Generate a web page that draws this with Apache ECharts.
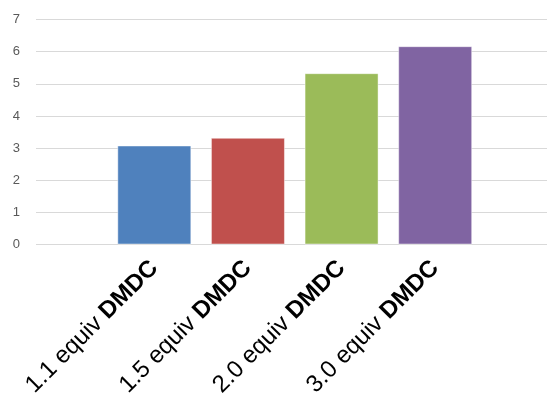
<!DOCTYPE html>
<html>
<head>
<meta charset="utf-8">
<script src="https://cdn.jsdelivr.net/npm/echarts@6/dist/echarts.min.js"></script>
<style>html,body{margin:0;padding:0;background:#fff}#c{width:547px;height:404px}</style>
</head>
<body>
<div id="c"></div>
<script>
var categories = ['1.1 equiv', '1.5 equiv', '2.0 equiv', '3.0 equiv'];
var reagent = 'DMDC';
var values = [3.08, 3.32, 5.33, 6.17];
var yTicks = {min: 0, max: 7, interval: 1};
var barColors = ['#4F81BD', '#C0504D', '#9BBB59', '#8064A2'];

var chart = echarts.init(document.getElementById('c'), null, {renderer: 'canvas'});
chart.setOption({
  animation: false,
  grid: [
    {left: 36, right: 0, top: 19.5, bottom: 159.5},
    {left: 107.5, right: 65, top: 19.5, bottom: 159.5}
  ],
  xAxis: [
    {gridIndex: 0, type: 'category', data: categories, show: false},
    {gridIndex: 1, type: 'category', data: categories,
     axisLine: {show: false}, axisTick: {show: false},
     axisLabel: {
       rotate: 45, margin: 20, interval: 0,
       formatter: function (v) { return '{a|' + v + ' }{b|' + reagent + '}'; },
       rich: {
         a: {fontFamily: 'Liberation Sans, Arial', fontSize: 24, color: '#000'},
         b: {fontFamily: 'Liberation Sans, Arial', fontSize: 24, fontWeight: 'bold', color: '#000'}
       }
     }}
  ],
  yAxis: [
    {gridIndex: 0, type: 'value', min: yTicks.min, max: yTicks.max, interval: yTicks.interval,
     axisLine: {show: false}, axisTick: {show: false},
     axisLabel: {margin: 16, color: '#595959', fontSize: 13, fontFamily: 'Liberation Sans, Arial'},
     splitLine: {lineStyle: {color: '#D9D9D9', width: 1}}},
    {gridIndex: 1, type: 'value', min: yTicks.min, max: yTicks.max, interval: yTicks.interval, show: false,
     splitLine: {show: false}}
  ],
  series: [{
    type: 'bar', xAxisIndex: 1, yAxisIndex: 1,
    barWidth: 74,
    data: values.map(function (v, i) {
      return {value: v, itemStyle: {color: barColors[i], borderColor: 'rgba(255,255,255,0.45)', borderWidth: 1}};
    })
  }]
});
</script>
</body>
</html>
